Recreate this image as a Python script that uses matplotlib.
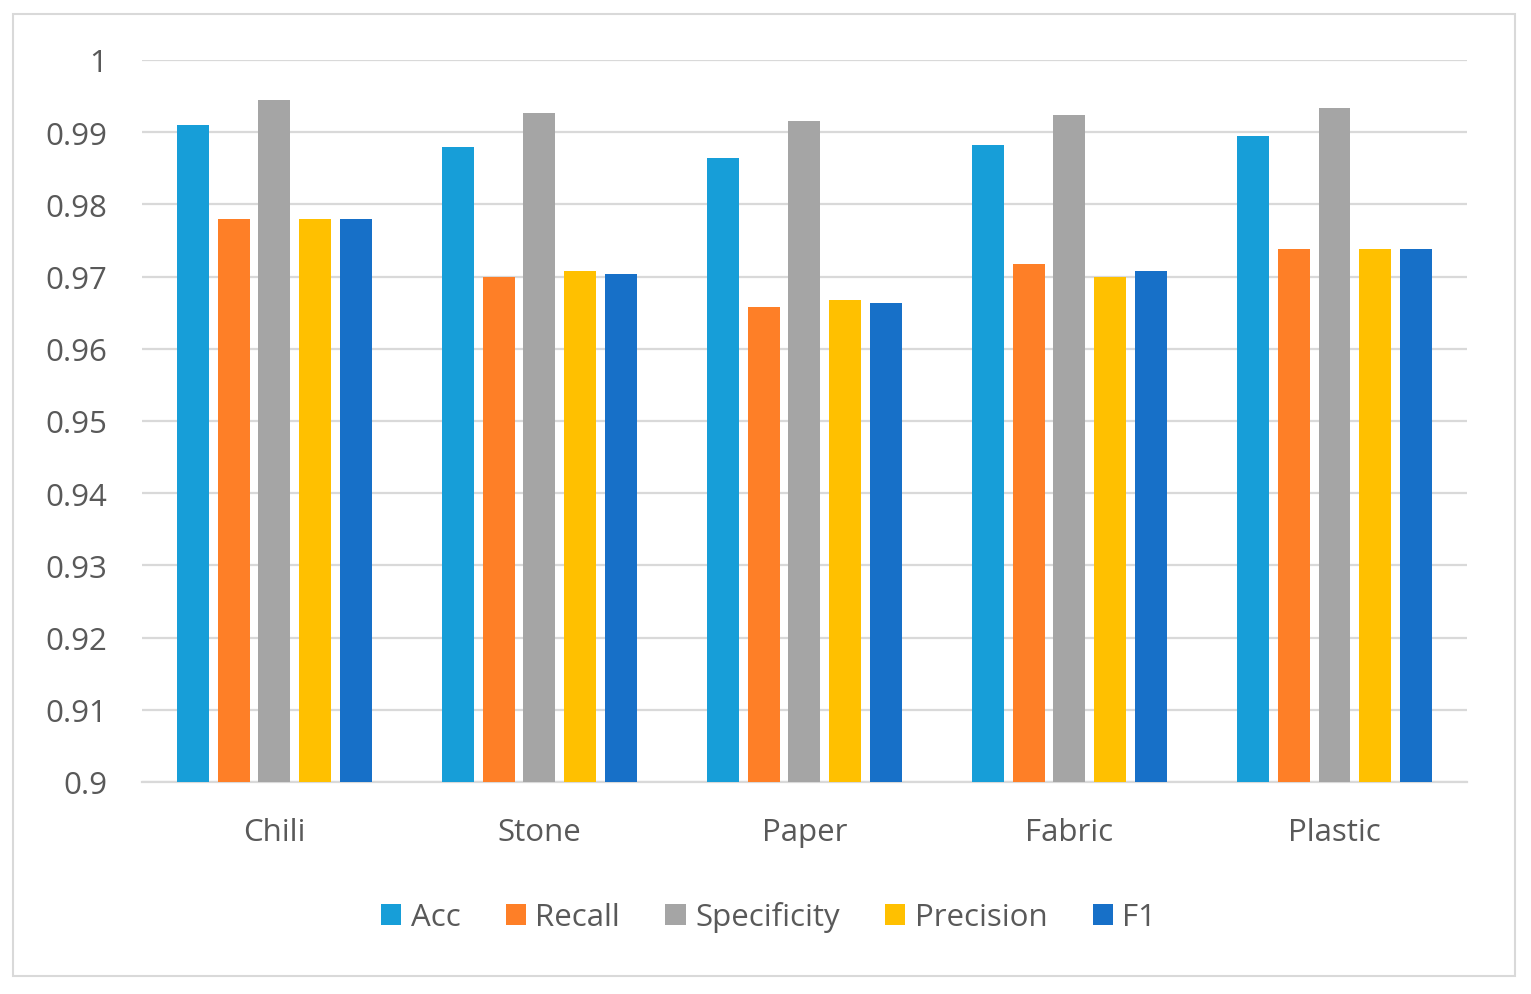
import numpy as np
import matplotlib
matplotlib.use('Agg')
import matplotlib.pyplot as plt
from matplotlib.patches import Rectangle

plt.rcParams['font.family'] = ['Open Sans', 'DejaVu Sans']

Categories = ['Chili', 'Stone', 'Paper', 'Fabric', 'Plastic']
Acc = [0.9910, 0.9880, 0.9864, 0.9882, 0.9895]
Recall = [0.9780, 0.9699, 0.9658, 0.9718, 0.9738]
Specificity = [0.9944, 0.9926, 0.9916, 0.9924, 0.9934]
Precision = [0.9780, 0.9708, 0.9668, 0.9700, 0.9738]
F1 = [0.9780, 0.9704, 0.9663, 0.9708, 0.9738]
YTicks = [0.9, 0.91, 0.92, 0.93, 0.94, 0.95, 0.96, 0.97, 0.98, 0.99, 1.0]
YTickLabels = ['0.9', '0.91', '0.92', '0.93', '0.94', '0.95', '0.96', '0.97', '0.98', '0.99', '1']

Series = [('Acc', Acc, '#179ed8'),
          ('Recall', Recall, '#fe7f27'),
          ('Specificity', Specificity, '#a5a5a5'),
          ('Precision', Precision, '#ffc000'),
          ('F1', F1, '#1770c8')]

fig = plt.figure(figsize=(15.31, 9.95), dpi=100)
ax = fig.add_axes([0.0927, 0.2131, 0.8655, 0.7256])

x = np.arange(len(Categories))
pitch = 0.1536
width = 0.1206
for k, (name, vals, col) in enumerate(Series):
    ax.bar(x + (k - 2) * pitch, vals, width, color=col, label=name, zorder=3)

ax.set_xlim(-0.5, 4.5)
ax.set_ylim(0.9, 1.0)
ax.set_yticks(YTicks)
ax.set_yticklabels(YTickLabels)
ax.set_xticks(x)
ax.set_xticklabels(Categories)
ax.grid(axis='y', color='#d9d9d9', linewidth=1.6, zorder=0)
ax.set_axisbelow(True)
for s in ['top', 'right', 'left']:
    ax.spines[s].set_visible(False)
ax.spines['bottom'].set_color('#d9d9d9')
ax.spines['bottom'].set_linewidth(1.6)
ax.tick_params(axis='both', length=0, labelsize=22.5, colors='#595959')
ax.tick_params(axis='y', pad=25)
ax.tick_params(axis='x', pad=25)

leg = ax.legend(loc='upper center', bbox_to_anchor=(0.473, -0.126), ncol=5,
                frameon=False, fontsize=22.5, handlelength=0.65, handleheight=0.65,
                handletextpad=0.3, columnspacing=1.45)
for t in leg.get_texts():
    t.set_color('#595959')

fig.patches.append(Rectangle((13 / 1531, 1 - 977 / 995), 1502 / 1531, 962 / 995,
                             transform=fig.transFigure, fill=False,
                             edgecolor='#d9d9d9', linewidth=1.5))

fig.savefig('out.png', dpi=100)
